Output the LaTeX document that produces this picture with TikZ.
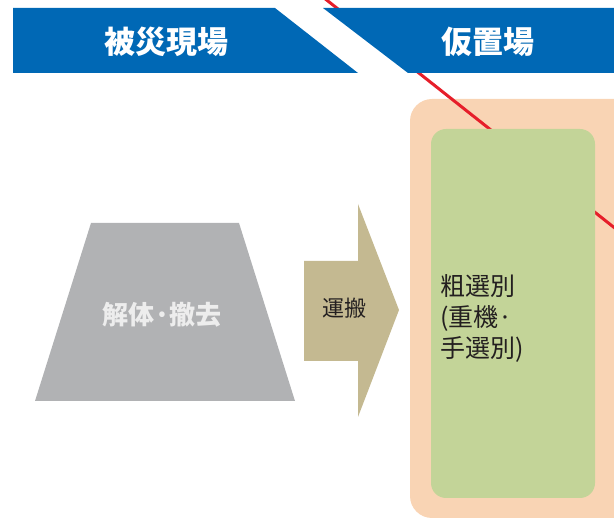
\documentclass[tikz,border=0pt]{standalone}
\usepackage{fontspec}
\setmainfont{Noto Sans CJK JP}
\definecolor{bannerblue}{RGB}{0,104,181}
\definecolor{rubblegray}{RGB}{177,178,180}
\definecolor{carrytan}{RGB}{196,185,145}
\definecolor{yardorange}{RGB}{249,212,180}
\definecolor{sortgreen}{RGB}{195,212,152}
\definecolor{borderred}{RGB}{230,30,42}
\definecolor{darktext}{RGB}{35,31,32}

\begin{document}
\begin{tikzpicture}[x=1pt, y=-1pt, every node/.style={inner sep=0pt, text=darktext},
  bannertext/.style={text=white, font=\fontsize{31}{36}\selectfont\bfseries}]
  \useasboundingbox (0,0) rectangle (614,518);
  \clip (0,0) rectangle (614,518);
  \fill[yardorange, rounded corners=22pt] (410,99) rectangle (660,518);
  \draw[borderred, line width=3pt] (314,-10) -- (640,248);
  \fill[bannerblue] (13,8) -- (275,8) -- (358,73) -- (13,73) -- cycle;
  \fill[bannerblue] (323,8) -- (614,8) -- (614,73) -- (408,73) -- cycle;
  \fill[sortgreen, rounded corners=15pt] (431,129) rectangle (595,498);
  \fill[rubblegray] (91,223) -- (239,223) -- (295,401) -- (35,401) -- cycle;
  \fill[carrytan] (304,261) -- (358,261) -- (358,204) -- (399,310) -- (358,417) -- (358,361) -- (304,361) -- cycle;
  \node[bannertext] (site) at (166,42) {被災現場};
  \node[bannertext] (yard) at (488,42) {仮置場};
  \node[text=white!93!black, font=\fontsize{26}{30}\selectfont\bfseries] (demolish) at (162,315) {解体·撤去};
  \node[font=\fontsize{22}{26}\selectfont] (carry) at (344,308) {運搬};
  \node[anchor=west, align=left, font=\fontsize{25}{31}\selectfont] (sort) at (440,318) {粗選別\\(重機·\\手選別)};
\end{tikzpicture}
\end{document}
